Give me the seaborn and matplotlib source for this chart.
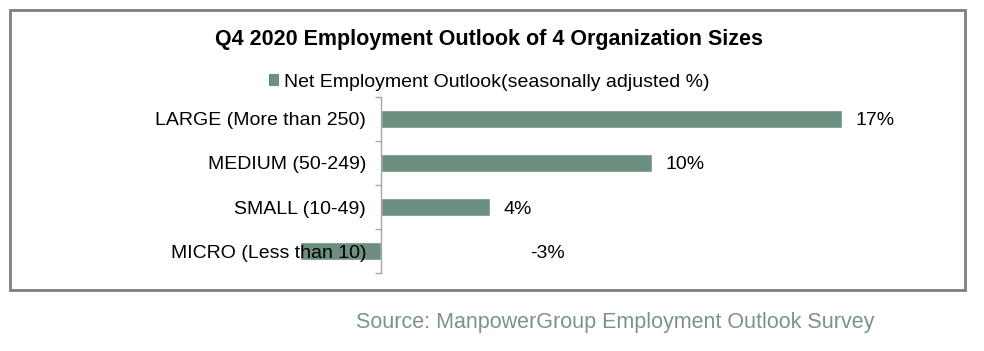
import matplotlib
matplotlib.use("Agg")
import matplotlib.pyplot as plt
from matplotlib.patches import Rectangle, Patch
import seaborn as sns
import pandas as pd

# Data
categories = ["LARGE (More than 250)", "MEDIUM (50-249)", "SMALL (10-49)", "MICRO (Less than 10)"]
outlook = [17, 10, 4, -3]
value_labels = ["17%", "10%", "4%", "-3%"]

title = "Q4 2020 Employment Outlook of 4 Organization Sizes"
legend_label = "Net Employment Outlook(seasonally adjusted %)"
source = "Source: ManpowerGroup Employment Outlook Survey"

bar_color = "#6c8f80"
df = pd.DataFrame({"size": categories, "outlook": outlook})

sns.set_style("white")
plt.rcParams["font.family"] = ["Liberation Sans", "DejaVu Sans"]
plt.rcParams["text.color"] = "black"

fig = plt.figure(figsize=(9.84, 3.51), dpi=100)
ax = fig.add_axes([0.305, 0.222, 0.633, 0.502])

sns.barplot(data=df, x="outlook", y="size", orient="h", color=bar_color,
            width=0.41, saturation=1, ax=ax, zorder=1)

ax.set_xlim(-3, 20)
ax.set_ylim(3.5, -0.5)
ax.set_xlabel("")
ax.set_ylabel("")

# only the vertical axis at zero, with boundary ticks
for s in ["top", "right", "bottom"]:
    ax.spines[s].set_visible(False)
ax.spines["left"].set_position(("data", 0))
ax.spines["left"].set_color("#a6a6a6")
ax.spines["left"].set_linewidth(1)
ax.set_xticks([])
ax.set_yticks(range(len(categories)))
ax.set_yticklabels(categories, fontsize=14, color="black", va="center_baseline")
ax.tick_params(axis="y", which="major", length=0, pad=11)
ax.set_yticks([-0.5, 0.5, 1.5, 2.5, 3.5], minor=True)
ax.tick_params(axis="y", which="minor", left=True, length=4, color="#a6a6a6",
               width=1, direction="out")
for t in ax.get_yticklabels():
    t.set_zorder(5)
ax.set_axisbelow(False)

# value labels
for i, (v, lab) in enumerate(zip(outlook, value_labels)):
    x = v + 0.5 if v >= 0 else 5.5
    ax.text(x, i, lab, va="center_baseline", ha="left", fontsize=14, color="black")

# title, legend, source
fig.text(0.497, 0.887, title, ha="center", va="center", fontsize=15.5,
         fontweight="bold", color="black")
handle = Patch(facecolor=bar_color, edgecolor="none")
fig.legend([handle], [legend_label], loc="center", bbox_to_anchor=(0.497, 0.765),
           frameon=False, fontsize=14, handlelength=0.55, handleheight=0.55,
           handletextpad=0.25, borderpad=0, labelcolor="black")
fig.text(0.625, 0.081, source, ha="center", va="center", fontsize=15.5, color="#7a9489")

# outer border
fig.patches.append(Rectangle((10 / 984, 1 - 290 / 351), 955 / 984, 280 / 351,
                             transform=fig.transFigure, fill=False,
                             edgecolor="#7f7f7f", linewidth=2))

fig.savefig("out.png", dpi=100)
